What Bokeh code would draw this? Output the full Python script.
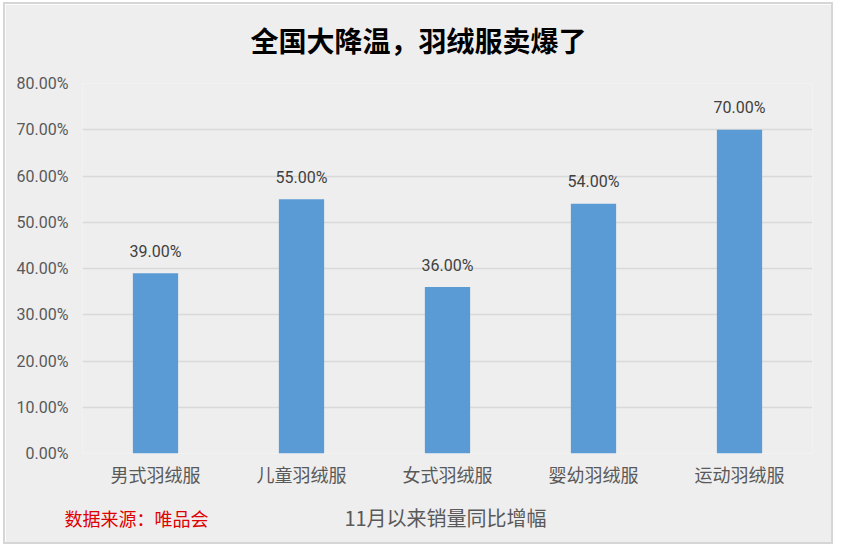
from bokeh.plotting import figure
from bokeh.models import Range1d, FactorRange, NumeralTickFormatter, Label, ColumnDataSource, FixedTicker
from bokeh.embed import file_html
from bokeh.resources import INLINE
from bokeh.core.properties import value

categories = ["男式羽绒服", "儿童羽绒服", "女式羽绒服", "婴幼羽绒服", "运动羽绒服"]
growth = [0.39, 0.55, 0.36, 0.54, 0.70]
y_ticks = [0.0, 0.1, 0.2, 0.3, 0.4, 0.5, 0.6, 0.7, 0.8]
title_text = "全国大降温，羽绒服卖爆了"
source_text = "数据来源：唯品会"
axis_text = "11月以来销量同比增幅"

# canvas placed inside a thin border on the page
OX, OY = 5, 4
W, H = 830, 542
FRAME_L, FRAME_R, FRAME_T, FRAME_B = 82, 812, 83, 453   # page pixels
BL, BR = FRAME_L - OX, W - (FRAME_R - OX)
BT, BB = FRAME_T - OY, H - (FRAME_B - OY)
Y_MAX = 0.8
frame_h = FRAME_B - FRAME_T
frame_w = FRAME_R - FRAME_L
px_per_unit = frame_h / Y_MAX
px_per_cat = frame_w / len(categories)

CJK = "Noto Sans CJK SC"
NUM = "Roboto"
BG = "#EEEEEE"

p = figure(width=W, height=H, x_range=FactorRange(*categories), y_range=Range1d(0, Y_MAX),
           output_backend="svg", toolbar_location=None,
           min_border_left=BL, min_border_right=BR, min_border_top=BT, min_border_bottom=BB)
p.styles = {"margin-left": "3px", "margin-top": "2px", "border": "2px solid #D6D6D6"}
p.background_fill_color = BG
p.border_fill_color = BG
p.outline_line_color = None

src = ColumnDataSource(dict(cat=categories, val=growth,
                            label=[f"{v*100:.2f}%" for v in growth]))
p.vbar(x="cat", top="val", width=0.31, source=src, color="#5B9BD5", line_color=None)
p.text(x="cat", y="val", text="label", source=src, text_align="center",
       text_baseline="alphabetic", y_offset=-22, text_font=value(NUM),
       text_font_size="16px", text_color="#404040")

# axes
p.yaxis.ticker = FixedTicker(ticks=y_ticks)
p.yaxis.formatter = NumeralTickFormatter(format="0.00%")
p.yaxis.axis_line_color = None
p.yaxis.major_tick_line_color = None
p.yaxis.major_tick_out = 0
p.yaxis.minor_tick_line_color = None
p.yaxis.major_label_standoff = 14
p.yaxis.major_label_text_font = NUM
p.yaxis.major_label_text_font_size = "16px"
p.yaxis.major_label_text_color = "#595959"

p.xaxis.axis_line_color = None
p.xaxis.major_tick_line_color = None
p.xaxis.major_tick_out = 0
p.xaxis.major_label_standoff = 7
p.xaxis.major_label_text_font = CJK
p.xaxis.major_label_text_font_size = "18px"
p.xaxis.major_label_text_color = "#595959"

p.xgrid.grid_line_color = None
p.ygrid.grid_line_color = "#D9D9D9"
p.ygrid.grid_line_width = 1.5

# title and footer texts, placed in side panels (positions from page layout, in data units)
title_x = (418 - FRAME_L) / px_per_cat
title_y = (FRAME_B - 39) / px_per_unit
p.add_layout(Label(x=title_x, y=title_y, text=title_text, text_align="center",
                   text_baseline="middle", text_font=CJK, text_font_size="28px",
                   text_font_style="bold", text_color="#000000"), "above")
foot_y = -(517 - FRAME_B) / px_per_unit
p.add_layout(Label(x=(64 - FRAME_L) / px_per_cat, y=foot_y, text=source_text, text_align="left",
                   text_baseline="middle", text_font=CJK, text_font_size="18px",
                   text_color="#E00000"), "below")
p.add_layout(Label(x=(445 - FRAME_L) / px_per_cat, y=foot_y, text=axis_text, text_align="center",
                   text_baseline="middle", text_font=CJK, text_font_size="20px",
                   text_color="#595959"), "below")

open("out.html", "w").write(file_html(p, INLINE))
